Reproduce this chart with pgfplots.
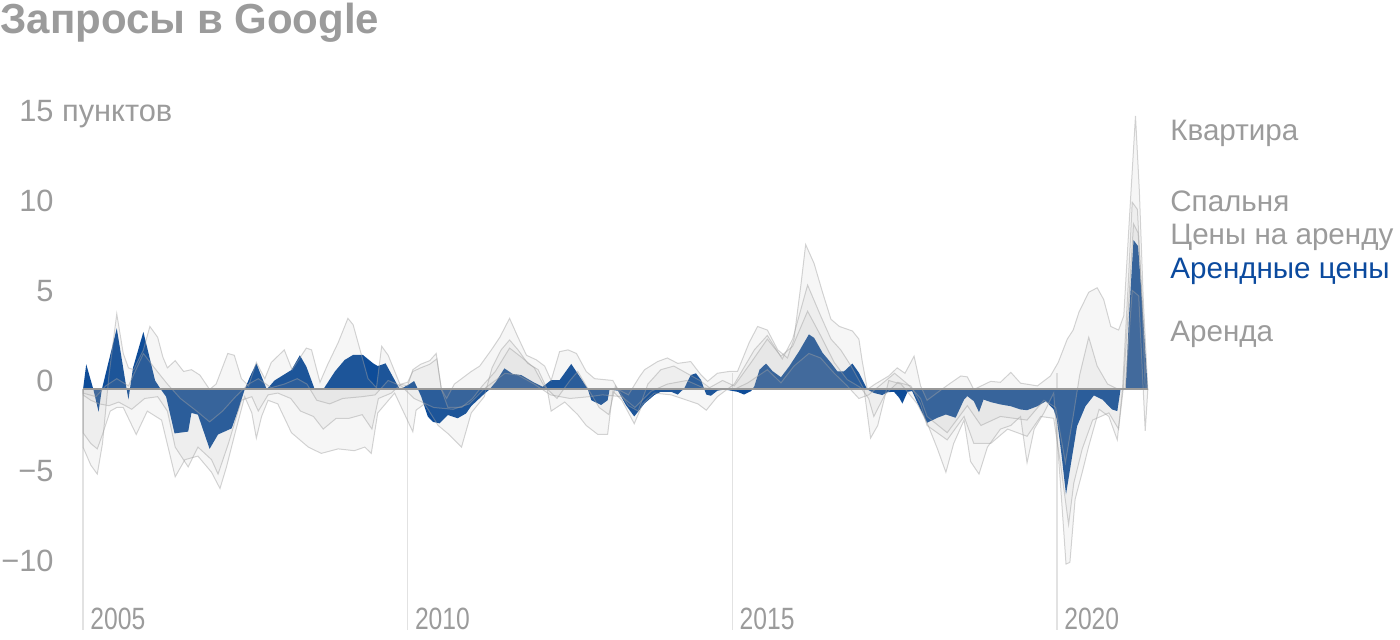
\documentclass[border=0pt]{standalone}
\usepackage{fontspec}
\setmainfont{Liberation Sans}
\usepackage{graphicx}
\usepackage{pgfplots}
\pgfplotsset{compat=1.18}

\definecolor{blu}{HTML}{0E4C98}
\definecolor{txt}{HTML}{9B9B9B}
\definecolor{bluetxt}{HTML}{0B4A9E}
\definecolor{layer}{HTML}{A8A8A8}
\definecolor{edge}{HTML}{A0A0A0}
\definecolor{base}{HTML}{999999}
\definecolor{vline}{HTML}{E2E2E2}

\pgfplotsset{gray layer/.style={fill=layer, fill opacity=0.1, draw=edge, draw opacity=0.45, line width=0.5pt}}

\begin{document}
\begin{tikzpicture}
\begin{axis}[
  scale only axis, width=532.4pt, height=265pt,
  xmin=2005, xmax=2021.4, ymin=-13.36, ymax=16.08,
  clip=false,
  axis line style={draw=none},
  tick style={draw=none},
  major tick length=0pt,
  xtick={2005,2010,2015,2020},
  xticklabels={{\scalebox{0.8}[1]{2005}},{\scalebox{0.8}[1]{2010}},{\scalebox{0.8}[1]{2015}},{\scalebox{0.8}[1]{2020}}},
  ytick={-10,-5,0,5,10,15},
  yticklabels={−10,−5,0,5,10,15\rlap{ пунктов}},
  tick label style={font=\fontsize{15.4}{18}\selectfont, text=txt, inner sep=0pt},
  xticklabel style={anchor=base west, xshift=3.5pt},
  yticklabel style={anchor=base east, xshift=-14.5pt, yshift=-1pt},
]
\coordinate (bl) at (rel axis cs:0,0);
\coordinate (tr) at (rel axis cs:1,1);

% year lines
\addplot[draw=vline, line width=0.6pt] coordinates {(2005,0) (2005,-13.36)};
\addplot[draw=vline, line width=0.6pt] coordinates {(2010,0) (2010,-13.36)};
\addplot[draw=vline, line width=0.6pt] coordinates {(2015,0.9) (2015,-13.36)};
\addplot[draw=vline, line width=0.6pt] coordinates {(2020,0.9) (2020,-13.36)};

% Арендные цены
\addplot[fill=blu, draw=none] coordinates {
(2005.00,0) (2005.05,1.4) (2005.16,0) (2005.24,-1.24) (2005.29,0) (2005.52,3.4)
(2005.67,0.06) (2005.70,-0.55) (2005.77,1.2) (2005.93,3.2) (2006.11,0.5) (2006.20,0)
(2006.28,-0.4) (2006.41,-2.44) (2006.62,-2.34) (2006.67,-1.3) (2006.77,-1.4) (2006.95,-3.3)
(2007.08,-2.5) (2007.29,-2.16) (2007.39,-1.14) (2007.49,0) (2007.57,0.7) (2007.67,1.45)
(2007.83,0) (2007.95,0.5) (2008.21,1.08) (2008.34,1.9) (2008.44,1.27) (2008.57,0)
(2008.70,0) (2008.88,1.0) (2009.03,1.64) (2009.16,1.92) (2009.31,1.92) (2009.47,1.45)
(2009.54,1.3) (2009.66,1.45) (2009.88,0) (2010.03,0.3) (2010.10,0.47) (2010.16,0)
(2010.21,-0.4) (2010.31,-1.5) (2010.39,-1.8) (2010.49,-1.88) (2010.62,-1.42) (2010.67,-1.48)
(2010.77,-1.6) (2010.90,-1.33) (2010.98,-0.92) (2011.16,-0.31) (2011.26,0) (2011.36,0.43)
(2011.49,1.17) (2011.62,0.86) (2011.75,0.8) (2011.95,0.38) (2012.08,0.15) (2012.21,0.52)
(2012.34,0.52) (2012.52,1.42) (2012.77,0.06) (2012.83,-0.6) (2012.98,-0.86) (2013.08,-0.6)
(2013.11,0) (2013.24,-0.07) (2013.36,-0.86) (2013.49,-1.5) (2013.65,-0.77) (2013.80,-0.31)
(2013.90,-0.13) (2014.06,-0.13) (2014.16,-0.28) (2014.26,0.06) (2014.36,0.8) (2014.44,0.9)
(2014.52,0.52) (2014.57,0) (2014.60,-0.28) (2014.67,-0.35) (2014.77,-0.07) (2014.88,0)
(2015.08,-0.13) (2015.18,-0.28) (2015.29,-0.09) (2015.34,0.18) (2015.42,1.1) (2015.52,1.44)
(2015.62,1.02) (2015.75,0.68) (2015.88,1.3) (2016.03,2.13) (2016.18,3.06) (2016.26,2.87)
(2016.39,2.04) (2016.52,1.48) (2016.62,1.0) (2016.72,1.0) (2016.85,1.44) (2016.95,0.93)
(2017.08,0) (2017.18,-0.19) (2017.31,-0.31) (2017.39,-0.15) (2017.49,-0.13) (2017.57,-0.46)
(2017.62,-0.78) (2017.67,-0.37) (2017.70,-0.13) (2017.77,-0.09) (2017.85,-0.74) (2018.00,-1.85)
(2018.16,-1.57) (2018.29,-1.39) (2018.44,-1.57) (2018.57,-0.56) (2018.62,-0.37) (2018.72,-0.65)
(2018.80,-1.26) (2018.87,-0.56) (2018.98,-0.7) (2019.13,-0.83) (2019.29,-0.93) (2019.44,-1.11)
(2019.54,-1.15) (2019.70,-0.93) (2019.83,-0.65) (2019.95,-1.11) (2020.00,-1.67) (2020.07,-3.6)
(2020.14,-5.83) (2020.21,-4.26) (2020.31,-2.04) (2020.44,-0.93) (2020.57,-0.33) (2020.70,-0.56)
(2020.85,-1.11) (2020.93,-1.2) (2020.98,0) (2021.06,0) (2021.11,4.07) (2021.18,8.3)
(2021.25,7.96) (2021.30,5.5) (2021.40,0)
} \closedcycle;

% Квартира
\addplot[gray layer] coordinates {
(2005.00,-3.2) (2005.12,-4.2) (2005.22,-4.7) (2005.30,-3.0) (2005.40,0.8) (2005.52,4.2)
(2005.62,2.0) (2005.70,1.2) (2005.78,1.1) (2005.93,2.2) (2006.03,3.5) (2006.15,2.9)
(2006.23,1.8) (2006.30,1.2) (2006.42,1.6) (2006.55,1.0) (2006.67,1.1) (2006.80,0.8)
(2006.95,0.0) (2007.05,0.3) (2007.23,2.0) (2007.33,1.9) (2007.44,0.6) (2007.55,0.2)
(2007.67,1.5) (2007.80,0.6) (2007.90,1.5) (2008.10,2.2) (2008.22,1.1) (2008.44,2.3)
(2008.52,2.2) (2008.65,0.4) (2008.77,1.4) (2008.93,2.6) (2009.08,3.95) (2009.16,3.6)
(2009.29,1.9) (2009.39,0.6) (2009.52,0.1) (2009.60,2.4) (2009.70,1.9) (2009.88,0.3)
(2010.00,0.2) (2010.08,1.1) (2010.20,1.4) (2010.34,1.6) (2010.44,2.0) (2010.52,0.0)
(2010.60,-0.5) (2010.72,0.3) (2010.98,1.0) (2011.11,1.3) (2011.29,2.2) (2011.42,2.9)
(2011.57,3.95) (2011.70,2.9) (2011.83,1.9) (2011.98,1.65) (2012.11,1.3) (2012.21,0.5)
(2012.34,2.1) (2012.47,2.2) (2012.60,2.0) (2012.75,1.0) (2012.88,0.6) (2013.16,0.5)
(2013.24,0.0) (2013.40,-0.3) (2013.57,0.7) (2013.65,1.1) (2013.85,1.55) (2014.00,1.75)
(2014.16,1.45) (2014.36,1.55) (2014.52,0.8) (2014.62,0.45) (2014.77,0.9) (2014.95,1.0)
(2015.08,1.0) (2015.26,2.6) (2015.39,3.5) (2015.54,3.3) (2015.70,2.2) (2015.85,1.75)
(2015.95,2.8) (2016.06,5.9) (2016.13,8.05) (2016.26,7.0) (2016.39,5.4) (2016.52,3.9)
(2016.65,3.5) (2016.85,3.25) (2016.95,2.8) (2017.00,1.6) (2017.08,0.0) (2017.20,0.3)
(2017.41,0.75) (2017.54,1.2) (2017.66,0.9) (2017.80,1.85) (2017.90,0.2) (2018.00,-0.6)
(2018.30,0.2) (2018.52,0.75) (2018.62,0.7) (2018.72,0.0) (2018.98,0.45) (2019.13,0.4)
(2019.29,0.95) (2019.44,0.35) (2019.70,0.2) (2019.90,0.75) (2020.02,1.5) (2020.16,2.8)
(2020.25,3.3) (2020.34,4.3) (2020.49,5.4) (2020.62,5.65) (2020.72,5.0) (2020.83,3.5)
(2020.95,3.3) (2021.03,4.1) (2021.11,9.1) (2021.21,15.2) (2021.27,11.0) (2021.33,5.0)
(2021.40,0.0)
} \closedcycle;

% Спальня
\addplot[gray layer] coordinates {
(2005.00,-2.4) (2005.12,-3.0) (2005.22,-3.3) (2005.30,-2.5) (2005.42,-1.2) (2005.52,-1.0)
(2005.62,-1.0) (2005.82,-2.5) (2005.99,-1.2) (2006.21,-1.7) (2006.42,-4.85) (2006.57,-3.9)
(2006.77,-3.7) (2006.98,-4.6) (2007.11,-5.5) (2007.21,-4.3) (2007.34,-2.45) (2007.49,-0.4)
(2007.60,-1.3) (2007.67,-2.7) (2007.75,-1.5) (2007.85,-0.6) (2008.00,-0.8) (2008.21,-2.4)
(2008.47,-3.2) (2008.67,-3.55) (2008.93,-3.3) (2009.18,-3.4) (2009.34,-3.2) (2009.44,-3.55)
(2009.54,-1.3) (2009.80,-0.2) (2010.08,-2.35) (2010.13,-1.15) (2010.26,-0.8) (2010.47,-2.0)
(2010.62,-2.45) (2010.83,-3.2) (2010.98,-1.3) (2011.18,-0.4) (2011.30,1.2) (2011.44,2.2)
(2011.57,2.75) (2011.70,2.2) (2011.85,1.45) (2012.01,1.1) (2012.15,0.0) (2012.21,-1.2)
(2012.42,-0.7) (2012.62,-1.4) (2012.75,-2.0) (2012.93,-2.5) (2013.08,-2.5) (2013.16,-0.1)
(2013.30,-0.6) (2013.49,-1.9) (2013.62,-0.8) (2013.80,-0.2) (2014.06,-0.3) (2014.47,-0.8)
(2014.60,-1.15) (2014.77,-0.4) (2015.03,0.3) (2015.34,2.2) (2015.54,3.0) (2015.77,1.7)
(2015.93,2.8) (2016.16,5.8) (2016.36,4.1) (2016.52,2.8) (2016.67,2.2) (2016.83,1.3)
(2017.03,0.0) (2017.13,-2.7) (2017.24,-2.0) (2017.41,0.5) (2017.60,0.3) (2017.85,-0.8)
(2018.00,-1.85) (2018.16,-3.3) (2018.29,-4.6) (2018.41,-3.0) (2018.57,-1.7) (2018.67,-4.0)
(2018.80,-4.7) (2018.93,-3.2) (2019.13,-2.2) (2019.29,-2.0) (2019.44,-1.5) (2019.54,-4.07)
(2019.65,-2.2) (2019.80,-1.3) (2019.95,-0.2) (2020.05,-5.0) (2020.14,-9.7) (2020.20,-9.6)
(2020.28,-6.1) (2020.39,-4.6) (2020.49,-3.15) (2020.65,-1.1) (2020.80,-1.5) (2020.93,-2.8)
(2021.01,0.0) (2021.10,6.0) (2021.16,10.4) (2021.24,10.0) (2021.31,5.0) (2021.36,0.0)
(2021.40,0.0)
} \closedcycle;

% Цены на аренду
\addplot[gray layer] coordinates {
(2005.00,-0.3) (2005.12,-0.6) (2005.25,-0.8) (2005.40,-0.9) (2005.55,-0.7) (2005.75,-1.1)
(2005.95,-0.5) (2006.15,-0.4) (2006.30,-1.2) (2006.42,-3.2) (2006.62,-4.3) (2006.77,-3.2)
(2006.98,-3.9) (2007.08,-4.7) (2007.24,-3.0) (2007.44,-0.6) (2007.60,-0.4) (2007.70,-1.2)
(2007.85,-0.3) (2008.00,-0.2) (2008.20,-0.5) (2008.35,-1.2) (2008.55,-1.5) (2008.70,-2.2)
(2008.90,-1.6) (2009.10,-1.6) (2009.30,-1.4) (2009.45,-2.2) (2009.55,-0.5) (2009.75,-0.2)
(2009.90,0.3) (2010.00,0.4) (2010.08,1.0) (2010.20,1.2) (2010.34,1.4) (2010.45,1.7)
(2010.52,0.0) (2010.62,-1.0) (2010.83,-1.0) (2011.00,-0.5) (2011.15,0.2) (2011.35,1.0)
(2011.57,2.3) (2011.75,1.8) (2011.95,1.2) (2012.10,0.2) (2012.30,-0.5) (2012.50,0.5)
(2012.62,1.0) (2012.75,0.2) (2012.95,-1.0) (2013.10,-1.4) (2013.20,0.2) (2013.40,-0.9)
(2013.55,-1.2) (2013.70,0.3) (2013.90,1.1) (2014.10,1.3) (2014.30,0.9) (2014.50,0.5)
(2014.65,0.1) (2014.85,0.5) (2015.03,0.2) (2015.29,1.5) (2015.54,2.8) (2015.75,1.85)
(2015.93,2.4) (2016.16,4.35) (2016.36,3.0) (2016.57,1.5) (2016.77,0.55) (2016.98,0.1)
(2017.10,-0.5) (2017.18,-1.5) (2017.35,-0.3) (2017.55,0.4) (2017.75,0.2) (2017.90,-0.8)
(2018.00,-2.0) (2018.31,-2.8) (2018.57,-1.5) (2018.72,-3.0) (2018.98,-3.0) (2019.24,-2.2)
(2019.54,-2.6) (2019.75,-1.5) (2019.95,-1.6) (2020.05,-4.0) (2020.18,-7.5) (2020.26,-5.2)
(2020.39,-3.3) (2020.55,-1.7) (2020.80,-1.3) (2020.95,-2.2) (2021.02,0.0) (2021.10,4.5)
(2021.18,9.2) (2021.25,8.7) (2021.32,4.6) (2021.38,0.0) (2021.40,0.0)
} \closedcycle;

% Аренда
\addplot[gray layer] coordinates {
(2005.00,-0.2) (2005.20,-0.4) (2005.35,0.2) (2005.52,0.6) (2005.70,0.2) (2005.93,2.0)
(2006.10,1.2) (2006.30,0.3) (2006.50,-0.5) (2006.75,-1.2) (2006.95,-1.8) (2007.15,-1.2)
(2007.35,-0.4) (2007.55,0.3) (2007.70,0.6) (2007.90,0.1) (2008.10,0.3) (2008.30,0.6)
(2008.45,0.3) (2008.60,-0.6) (2008.80,-0.8) (2009.00,-0.5) (2009.30,-0.4) (2009.50,-0.3)
(2009.70,0.5) (2009.90,0.2) (2010.10,-0.5) (2010.40,-1.0) (2010.70,-1.1) (2010.95,-0.8)
(2011.20,0.1) (2011.50,0.9) (2011.70,0.8) (2011.95,0.3) (2012.20,-0.3) (2012.50,-0.5)
(2012.80,-0.4) (2013.00,-0.3) (2013.30,-0.4) (2013.50,-1.0) (2013.75,-0.1) (2014.00,0.3)
(2014.30,0.5) (2014.55,0.1) (2014.80,0.0) (2015.03,0.0) (2015.24,0.37) (2015.54,1.1)
(2015.75,0.37) (2015.95,1.3) (2016.18,2.0) (2016.36,1.75) (2016.57,0.9) (2016.77,0.2)
(2016.95,-0.5) (2017.10,-0.3) (2017.30,0.3) (2017.50,0.9) (2017.70,0.3) (2017.90,-0.5)
(2018.00,-1.5) (2018.31,-2.4) (2018.62,-0.9) (2018.83,-2.0) (2019.13,-1.5) (2019.54,-1.7)
(2019.80,-0.6) (2019.98,-1.0) (2020.13,-4.07) (2020.25,-1.5) (2020.35,0.8) (2020.49,2.9)
(2020.62,1.3) (2020.78,0.3) (2020.95,0.0) (2021.05,0.0) (2021.16,5.5) (2021.26,5.2)
(2021.36,-2.3) (2021.40,0.0)
} \closedcycle;

% zero line
\addplot[draw=base, line width=1pt] coordinates {(2005,0) (2021.4,0)};

% series names
\begin{scope}[every node/.style={anchor=base west, inner sep=0pt, font=\fontsize{14.8}{18}\selectfont, text=txt}]
\node at (axis cs:2021.741,13.82) {Квартира};
\node at (axis cs:2021.741,9.86) {Спальня};
\node at (axis cs:2021.741,8.03) {Цены на аренду};
\node[text=bluetxt] at (axis cs:2021.741,6.14) {Арендные цены};
\node at (axis cs:2021.741,2.67) {Аренда};
\end{scope}

% title
\node[anchor=base west, inner sep=0pt, text=txt, font=\fontsize{21}{24}\selectfont\bfseries]
  at (axis cs:2003.722,19.75) {Запросы в Google};
\end{axis}
\pgfresetboundingbox
\useasboundingbox ([xshift=-41.5pt,yshift=-5pt]bl) rectangle ([xshift=126.1pt,yshift=50pt]tr);
\end{tikzpicture}
\end{document}
